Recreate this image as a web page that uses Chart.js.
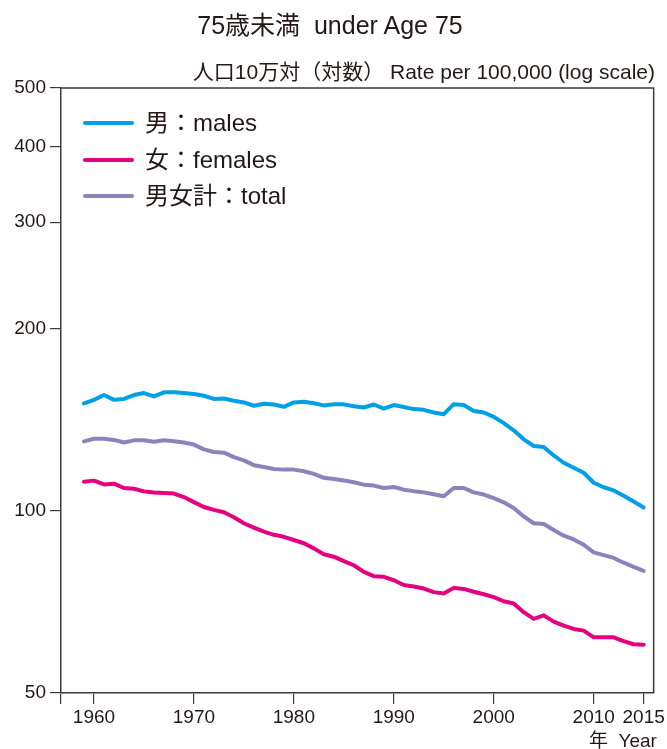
<!DOCTYPE html>
<html>
<head>
<meta charset="utf-8">
<script src="https://cdn.jsdelivr.net/npm/chart.js@4"></script>
<style>
  html, body { margin: 0; padding: 0; background: #fff; overflow: hidden; }
  #wrap { position: relative; width: 667px; height: 749px; font-family: "Liberation Sans", "Noto Sans CJK JP", sans-serif; color: #231815; }
  #wrap canvas { position: absolute; left: 0; top: 0; }
  .txt { position: absolute; white-space: nowrap; line-height: 1; }
  #title { left: 0; width: 660px; top: 13px; text-align: center; font-size: 25px; }
  #subtitle { right: 12px; top: 61px; font-size: 21px; }
  #xunit { left: 589px; top: 731px; font-size: 19px; }
  .leg { position: absolute; left: 83px; height: 24px; font-size: 24px; white-space: nowrap; }
  .leg i { position: absolute; left: 0; top: 10px; width: 51px; height: 4px; border-radius: 2px; }
  .leg span { position: absolute; left: 62px; top: 0; line-height: 24px; }
</style>
</head>
<body>
<div id="wrap">
  <canvas id="chartCanvas" width="667" height="749"></canvas>
  <div class="txt" id="title">75歳未満&nbsp;&nbsp;under Age 75</div>
  <div class="txt" id="subtitle">人口10万対（対数）&nbsp;Rate per 100,000 (log scale)</div>
  <div class="txt" id="xunit">年&nbsp;&nbsp;Year</div>
  <div id="legend"></div>
</div>
<script>
// 年（1959〜2015）
const years = [];
for (let y = 1959; y <= 2015; y++) years.push(y);

// 男：males
const males = [
  150.5, 152.6, 155.4, 152.6, 153.1, 155.4, 156.6, 154.6, 157.0, 157.0,
  156.6, 156.0, 155.0, 153.1, 153.4, 152.1, 151.1, 149.2, 150.3, 149.9,
  148.6, 151.1, 151.5, 150.6, 149.4, 150.1, 150.0, 148.9, 148.2, 149.9,
  147.6, 149.6, 148.5, 147.3, 146.9, 145.4, 144.5, 150.1, 149.6, 146.3,
  145.4, 143.0, 139.7, 135.9, 131.3, 128.0, 127.5, 123.5, 120.1, 117.8,
  115.6, 111.3, 109.4, 108.1, 105.9, 103.6, 101.3
];

// 女：females
const females = [
  111.7, 112.2, 110.6, 110.9, 109.1, 108.8, 107.7, 107.2, 107.0, 106.8,
  105.4, 103.4, 101.5, 100.4, 99.5, 97.6, 95.4, 93.8, 92.4, 91.3,
  90.6, 89.5, 88.4, 86.7, 84.8, 84.0, 82.6, 81.3, 79.3, 78.0,
  77.8, 76.8, 75.4, 75.0, 74.4, 73.4, 73.0, 74.6, 74.3, 73.5,
  72.8, 72.0, 70.9, 70.3, 68.0, 66.3, 67.2, 65.6, 64.6, 63.8,
  63.4, 61.8, 61.8, 61.8, 60.9, 60.2, 60.1
];

// 男女計：total
const total = [
  130.3, 131.6, 131.6, 131.0, 129.7, 130.8, 130.8, 130.1, 130.8, 130.3,
  129.7, 128.7, 126.4, 125.1, 124.8, 122.7, 121.2, 119.0, 118.2, 117.3,
  117.0, 117.0, 116.3, 115.1, 113.4, 112.9, 112.3, 111.5, 110.5, 110.1,
  109.1, 109.5, 108.4, 107.8, 107.3, 106.5, 105.7, 109.1, 109.1, 107.3,
  106.4, 105.0, 103.3, 101.1, 97.9, 95.4, 95.1, 93.0, 91.0, 89.7,
  87.9, 85.4, 84.5, 83.6, 82.1, 80.8, 79.6
];

// 軸の目盛り
const xTicks = [1960, 1970, 1980, 1990, 2000, 2010, 2015];
const yTicks = [50, 100, 200, 300, 400, 500];

const series = [
  { label: "男：males", values: males, color: "#00a0e6" },
  { label: "女：females", values: females, color: "#e4007f" },
  { label: "男女計：total", values: total, color: "#8f82bc" },
];

const xMin = 1956.7;
const xMax = 2016;
const axisColor = "#3e3a39";
const textColor = "#231815";

// 枠線（上と右）
const frame = {
  id: "frame",
  afterDatasetsDraw(chart) {
    const { ctx, chartArea: a } = chart;
    ctx.save();
    ctx.strokeStyle = axisColor;
    ctx.lineWidth = 1.5;
    ctx.beginPath();
    ctx.moveTo(a.left, a.top);
    ctx.lineTo(a.right, a.top);
    ctx.lineTo(a.right, a.bottom);
    ctx.stroke();
    ctx.restore();
  },
};

const data = {
  datasets: series.map((s) => ({
    label: s.label,
    data: years.map((y, i) => ({ x: y, y: s.values[i] })),
    borderColor: s.color,
    backgroundColor: s.color,
    borderWidth: 4,
    pointRadius: 0,
    tension: 0,
    borderCapStyle: "round",
    borderJoinStyle: "round",
  })),
};

const tickFont = { family: '"Liberation Sans", "Noto Sans CJK JP", sans-serif', size: 19 };

const config = {
  type: "line",
  data,
  options: {
    responsive: false,
    animation: false,
    layout: { padding: { top: 88, right: 12, left: 0, bottom: 0 } },
    plugins: {
      legend: { display: false },
      title: { display: false },
      tooltip: { enabled: false },
    },
    scales: {
      x: {
        type: "linear",
        min: xMin,
        max: xMax,
        afterBuildTicks: (scale) => {
          scale.ticks = [{ value: xMin }].concat(xTicks.map((v) => ({ value: v })));
        },
        afterFit: (scale) => { scale.height = 56; },
        ticks: {
          autoSkip: false,
          maxRotation: 0,
          padding: 2,
          color: textColor,
          font: tickFont,
          callback: (v) => (v === xMin ? "" : String(v)),
        },
        grid: { drawOnChartArea: false, tickLength: 11, color: axisColor, lineWidth: 1.2 },
        border: { color: axisColor, width: 1.5 },
      },
      y: {
        type: "logarithmic",
        min: 50,
        max: 500,
        afterBuildTicks: (scale) => {
          scale.ticks = yTicks.map((v) => ({ value: v }));
        },
        afterFit: (scale) => { scale.width = 61; },
        ticks: {
          autoSkip: false,
          padding: 4,
          color: textColor,
          font: tickFont,
          callback: (v) => String(v),
        },
        grid: { drawOnChartArea: false, tickLength: 11, color: axisColor, lineWidth: 1.2 },
        border: { color: axisColor, width: 1.5 },
      },
    },
  },
  plugins: [frame],
};

new Chart(document.getElementById("chartCanvas"), config);

// 凡例
const legendBox = document.getElementById("legend");
const legendTops = [111, 148, 184];
series.forEach((s, i) => {
  const row = document.createElement("div");
  row.className = "leg";
  row.style.top = legendTops[i] + "px";
  row.innerHTML = `<i style="background:${s.color}"></i><span>${s.label}</span>`;
  legendBox.appendChild(row);
});
</script>
</body>
</html>
